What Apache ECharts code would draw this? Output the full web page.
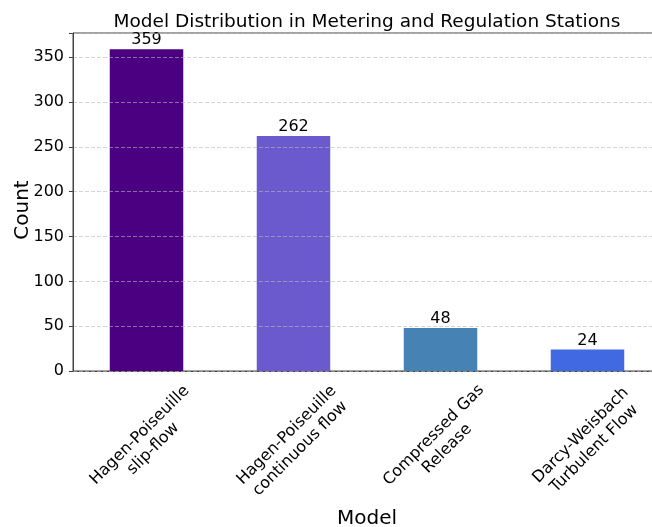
<!DOCTYPE html>
<html>
<head>
<meta charset="utf-8">
<script src="https://cdn.jsdelivr.net/npm/echarts@6/dist/echarts.min.js"></script>
<style>
html,body{margin:0;padding:0;background:#fff;}
#chart{width:652px;height:527px;}
</style>
</head>
<body>
<div id="chart"></div>
<script>
const categories = ["Hagen-Poiseuille\nslip-flow", "Hagen-Poiseuille\ncontinuous flow", "Compressed Gas\nRelease", "Darcy-Weisbach\nTurbulent Flow"];
const counts = [359, 262, 48, 24];
const barColors = ["#4B0082", "#6A5ACD", "#4682B4", "#4169E1"];
const yTicks = [0, 50, 100, 150, 200, 250, 300, 350];

const FONT = "DejaVu Sans";
const chart = echarts.init(document.getElementById('chart'), null, {renderer: 'canvas'});
chart.setOption({
  animation: false,
  backgroundColor: '#fff',
  title: {
    text: 'Model Distribution in Metering and Regulation Stations',
    left: 362, textAlign: 'center', top: 8,
    textStyle: {fontFamily: FONT, fontSize: 18.5, fontWeight: 'normal', color: '#000'}
  },
  grid: {left: 73, right: -9, top: 33, bottom: 156, show: true, borderColor: '#444', borderWidth: 1,
         containLabel: false, outerBoundsMode: 'none'},
  xAxis: {
    type: 'category',
    data: categories,
    name: 'Model', nameLocation: 'middle', nameGap: 138, nameMoveOverlap: false,
    nameTextStyle: {fontFamily: FONT, fontSize: 20, color: '#000'},
    axisLine: {lineStyle: {color: '#444', width: 1}},
    axisTick: {alignWithLabel: true, length: 4, lineStyle: {color: '#444'}},
    axisLabel: {
      rotate: 45, interval: 0, margin: 71, align: 'center', verticalAlign: 'middle',
      fontFamily: FONT, fontSize: 16, lineHeight: 19, color: '#000'
    },
    splitLine: {show: false}
  },
  yAxis: {
    type: 'value', min: 0, max: 377, interval: 50, z: 3,
    name: 'Count', nameLocation: 'middle', nameGap: 40, nameMoveOverlap: false,
    nameTextStyle: {fontFamily: FONT, fontSize: 20, color: '#000', padding: [0, 16, 0, 0]},
    axisLine: {show: true, lineStyle: {color: '#444', width: 1}},
    axisTick: {show: true, length: 4, lineStyle: {color: '#444'}},
    axisLabel: {
      fontFamily: FONT, fontSize: 16, color: '#000', margin: 9,
      formatter: function (v) { return yTicks.indexOf(v) >= 0 ? String(v) : ''; }
    },
    splitLine: {show: true, lineStyle: {type: [4, 2], color: 'rgba(185,185,185,0.75)', width: 0.8}}
  },
  series: [{
    type: 'bar',
    barWidth: '50%',
    data: counts.map((v, i) => ({value: v, itemStyle: {color: barColors[i]}})),
    label: {show: true, position: 'top', distance: 1, fontFamily: FONT, fontSize: 16, color: '#000'}
  }]
});
</script>
</body>
</html>
